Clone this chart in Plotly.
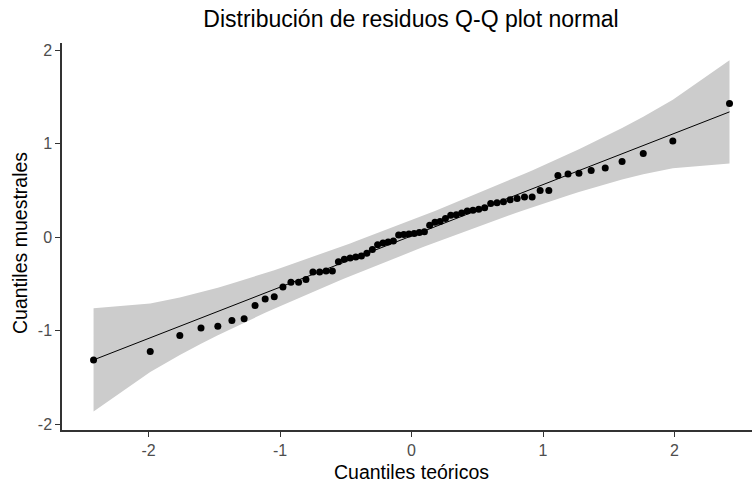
import numpy as np
import plotly.graph_objects as go

# Theoretical quantiles (n = 64)
theo_neg = [-2.418, -1.987, -1.762, -1.601, -1.473, -1.366, -1.273, -1.190,
            -1.113, -1.044, -0.978, -0.917, -0.859, -0.803, -0.750, -0.699,
            -0.650, -0.602, -0.556, -0.511, -0.467, -0.424, -0.381, -0.340,
            -0.298, -0.258, -0.217, -0.178, -0.138, -0.098, -0.059, -0.020]
theo_pos = [0.020, 0.059, 0.098, 0.138, 0.178, 0.217, 0.258, 0.298,
            0.340, 0.381, 0.424, 0.467, 0.511, 0.556, 0.602, 0.650,
            0.699, 0.750, 0.803, 0.859, 0.917, 0.978, 1.044, 1.113,
            1.190, 1.273, 1.366, 1.473, 1.601, 1.762, 1.987, 2.418]
theoretical = theo_neg + theo_pos

# Sample quantiles (sorted residuals)
sample = [-1.31, -1.22, -1.05, -0.97, -0.95, -0.89, -0.87, -0.73,
          -0.66, -0.635, -0.53, -0.48, -0.48, -0.45, -0.37, -0.37,
          -0.36, -0.36, -0.26, -0.235, -0.22, -0.21, -0.20, -0.17,
          -0.13, -0.08, -0.06, -0.05, -0.04, 0.025, 0.03, 0.035,
          0.04, 0.05, 0.06, 0.13, 0.16, 0.17, 0.20, 0.235,
          0.24, 0.26, 0.28, 0.29, 0.30, 0.315, 0.36, 0.37,
          0.38, 0.40, 0.415, 0.43, 0.43, 0.50, 0.50, 0.66,
          0.675, 0.685, 0.715, 0.74, 0.81, 0.895, 1.03, 1.43]

# Reference line endpoints
line_x = [-2.418, 2.418]
line_y = [-1.31, 1.34]

# Confidence band half-widths at each theoretical quantile
hw_half = [0.551, 0.366, 0.308, 0.275, 0.254, 0.240, 0.228, 0.220,
           0.212, 0.206, 0.201, 0.197, 0.193, 0.189, 0.187, 0.184,
           0.182, 0.180, 0.178, 0.176, 0.175, 0.174, 0.173, 0.172,
           0.171, 0.170, 0.170, 0.169, 0.169, 0.168, 0.168, 0.168]
band_hw = hw_half + hw_half[::-1]

center = np.interp(theoretical, line_x, line_y)
band_hi = center + np.array(band_hw)
band_lo = center - np.array(band_hw)

FONT = "Liberation Sans, Arial, sans-serif"
W, H = 752, 486
ML, MR, MT, MB = 62, 0, 43, H - 430
PW, PH = W - ML - MR, H - MT - MB

fig = go.Figure()
fig.add_trace(go.Scatter(
    x=theoretical + theoretical[::-1],
    y=list(band_hi) + list(band_lo[::-1]),
    fill="toself", fillcolor="#CCCCCC", line=dict(width=0),
    mode="lines", hoverinfo="skip", showlegend=False))
fig.add_trace(go.Scatter(
    x=line_x, y=line_y, mode="lines",
    line=dict(color="black", width=1), showlegend=False))
fig.add_trace(go.Scatter(
    x=theoretical, y=sample, mode="markers",
    marker=dict(color="black", size=7), showlegend=False))

fig.update_layout(
    width=W, height=H,
    margin=dict(l=ML, r=MR, t=MT, b=MB, autoexpand=False),
    paper_bgcolor="white", plot_bgcolor="white",
    font=dict(family=FONT, color="#1a1a1a"),
    title=dict(text="Distribución de residuos Q-Q plot normal",
               x=411/W, xref="container", xanchor="center",
               y=1 - 19/H, yref="container", yanchor="middle",
               font=dict(size=23, color="black", family=FONT)),
    annotations=[
        dict(text="Cuantiles teóricos", xref="paper", yref="paper",
             x=(411.5 - ML)/PW, y=-(472 - (H - MB))/PH,
             xanchor="center", yanchor="middle", showarrow=False,
             font=dict(size=19.5, color="black", family=FONT)),
        dict(text="Cuantiles muestrales", xref="paper", yref="paper",
             x=(20 - ML)/PW, y=((H - MB) - 243)/PH,
             textangle=-90,
             xanchor="center", yanchor="middle", showarrow=False,
             font=dict(size=19.5, color="black", family=FONT)),
    ],
)
axis_common = dict(
    tickvals=[-2, -1, 0, 1, 2], ticktext=["-2", "-1", "0", "1", "2"],
    showgrid=False, zeroline=False, showline=True,
    linecolor="#333333", linewidth=1.5,
    ticks="outside", ticklen=5, tickcolor="#333333", tickwidth=1.2,
    tickfont=dict(size=16, color="#4D4D4D", family=FONT),
    automargin=False)
fig.update_xaxes(range=[-2.658, 2.589], **axis_common)
fig.update_yaxes(range=[-2.059, 2.076], **axis_common)

fig.write_html("out.html",
               config={"displayModeBar": False},
               post_script="document.body.style.margin='0';"
                           "document.body.style.overflow='hidden';")
